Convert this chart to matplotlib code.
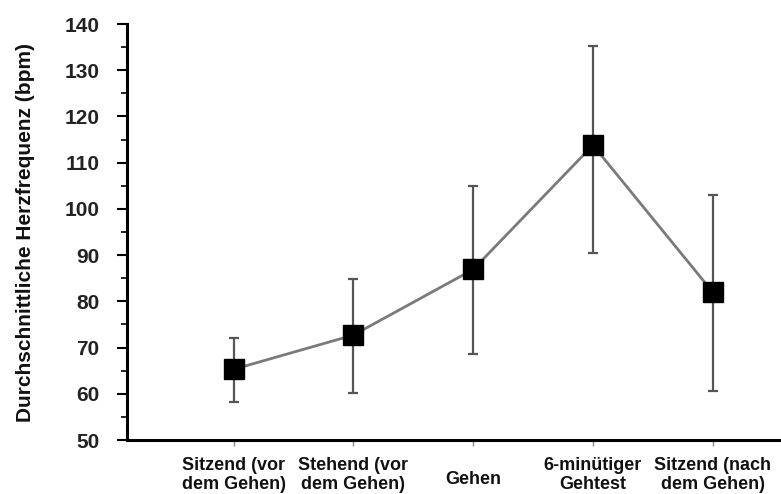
import matplotlib.pyplot as plt
from matplotlib.ticker import MultipleLocator
from matplotlib.transforms import ScaledTranslation

# Daten
categories = ["Sitzend (vor\ndem Gehen)", "Stehend (vor\ndem Gehen)", "Gehen",
              "6-minütiger\nGehtest", "Sitzend (nach\ndem Gehen)"]
mean_hr = [65.3, 72.7, 86.9, 113.8, 82.0]
lower_hr = [58.3, 60.2, 68.6, 90.5, 60.7]
upper_hr = [72.0, 84.8, 105.0, 135.3, 103.0]

plt.rcParams['font.family'] = ['Liberation Sans', 'DejaVu Sans']

fig = plt.figure(figsize=(7.81, 4.94), dpi=100)
ax = fig.add_axes([0.1626, 0.1093, 0.8374, 0.842])

x = list(range(len(categories)))
yerr = [[m - lo for m, lo in zip(mean_hr, lower_hr)],
        [hi - m for m, hi in zip(mean_hr, upper_hr)]]

ax.errorbar(x, mean_hr, yerr=yerr, fmt="none", ecolor="#555555",
            elinewidth=1.6, capsize=3.6, capthick=1.6, zorder=2)
ax.plot(x, mean_hr, color="#7a7a7a", linewidth=2, zorder=1)
ax.plot(x, mean_hr, linestyle="none", marker="s", markersize=14.5,
        color="black", zorder=3)

ax.set_xlim(-0.89, 4.57)
ax.set_ylim(50, 140)
ax.yaxis.set_major_locator(MultipleLocator(10))
ax.yaxis.set_minor_locator(MultipleLocator(5))

ax.set_xticks(x)
ax.set_xticklabels(categories, fontsize=13, fontweight="bold", color="#111111",
                   linespacing=1.15)
ax.tick_params(axis="x", length=4, width=1, color="#888888", pad=8)
ax.tick_params(axis="y", which="major", length=7, width=1.5, labelsize=15, pad=13)
ax.tick_params(axis="y", which="minor", length=4, width=1.2)
for lbl in ax.get_yticklabels():
    lbl.set_fontweight("bold")
    lbl.set_color("#222222")

# einzeiliges Label vertikal mittig zwischen den zweizeiligen
for lbl in ax.get_xticklabels():
    if "\n" not in lbl.get_text():
        lbl.set_transform(lbl.get_transform() +
                          ScaledTranslation(0, -10 / 72, fig.dpi_scale_trans))

ax.set_ylabel("Durchschnittliche Herzfrequenz (bpm)", fontsize=15,
              fontweight="bold", color="#111111")
ax.yaxis.set_label_coords(-92 / 654, 0.5)

ax.spines["top"].set_visible(False)
ax.spines["right"].set_visible(False)
ax.spines["left"].set_linewidth(2.2)
ax.spines["bottom"].set_linewidth(2.2)

fig.savefig("out.png", dpi=100)
